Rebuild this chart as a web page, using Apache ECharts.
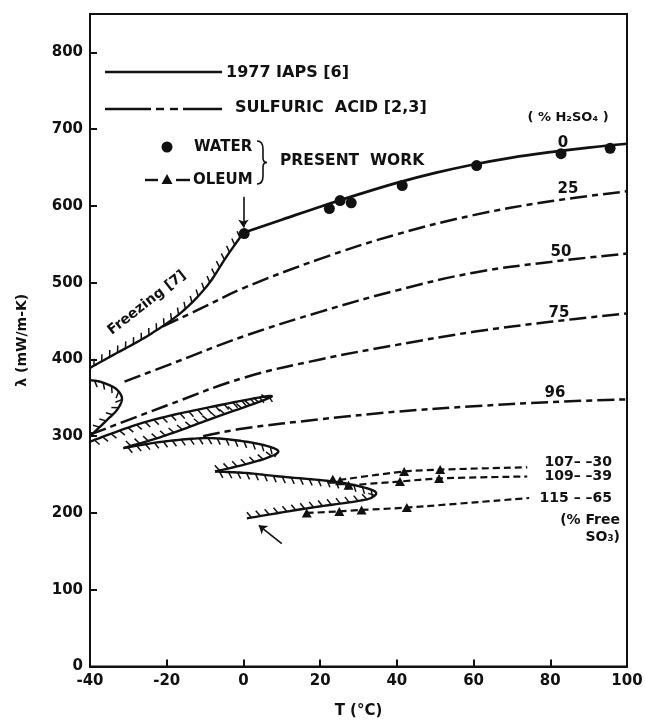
<!DOCTYPE html>
<html><head><meta charset="utf-8">
<script src="https://cdn.jsdelivr.net/npm/echarts@6/dist/echarts.min.js"></script>
<style>html,body{margin:0;padding:0;background:#fff}#c{width:646px;height:722px}</style>
</head><body><div id="c"></div>
<script>
// ---------- DATA ----------
const xTickValues = [-40, -20, 0, 20, 40, 60, 80, 100];
const yTickValues = [0, 100, 200, 300, 400, 500, 600, 700, 800];

// 1977 IAPS water curve
const iapsT = [0, 10, 20, 30, 40, 50, 60, 70, 80, 90, 100];
const iapsL = [565, 582, 599, 615, 630, 643, 654, 663, 670, 676, 681];

// present work: water points
const waterT = [0.2, 22.4, 25.2, 28.1, 41.4, 60.8, 82.8, 95.6];
const waterL = [564, 596.5, 607, 604, 626.5, 652.5, 668, 675];

// sulfuric acid curves [2,3]
const s25T = [-21, -10, 0, 20, 40, 60, 80, 100];
const s25L = [443, 469, 493, 531, 563, 588, 606, 619];
const s50T = [-31, -20, 0, 20, 40, 60, 80, 100];
const s50L = [371, 392, 430, 462, 490, 513, 527, 538];
const s75T = [-40, -20, 0, 20, 40, 60, 80, 100];
const s75L = [302, 340, 376, 400, 419, 436, 449, 460];
const s96T = [-10.5, 0, 20, 40, 60, 80, 100];
const s96L = [300, 310, 322, 332, 339, 344.5, 348];

// oleum: measured points and dashed curves
const o107T = [23.3, 41.9, 51.3];
const o107L = [244, 254, 256.5];
const o107CurveT = [25, 41.9, 51.3, 74];
const o107CurveL = [243, 254, 256.5, 259.5];
const o109T = [25.2, 27.4, 40.8, 51];
const o109L = [242, 236, 241, 245];
const o109CurveT = [27.4, 40.8, 51, 74];
const o109CurveL = [236, 241, 245, 247.5];
const o115T = [16.5, 25, 30.8, 42.6];
const o115L = [200, 202, 204, 207];
const o115CurveT = [16.5, 25, 30.8, 42.6, 74.5];
const o115CurveL = [200, 202, 204, 207, 219.5];

// freezing boundaries (hatched)
const frzAT = [-40, -33.9, -25.2, -16.5, -9.6, -4.4, 0];
const frzAL = [389, 406, 430, 460, 495, 534, 565];
const frzBT = [-40, -37.4, -33.9, -32.2, -31.7, -33.0, -35.6, -38.3, -40];
const frzBL = [373, 371, 364, 356, 347, 334, 321, 308, 300];
const frzCT = [-40, -25.2, -7.9, 7.4, -7.9, -20.9, -31.3];
const frzCL = [293, 319, 338.7, 352, 323.6, 300, 284.5];
const frzDT = [-31.3, -20.9, -9.6, -0.9, 6, 9.1, 6, 0, -7.4];
const frzDL = [284.5, 293, 297.5, 294, 287.5, 280, 271.5, 262.7, 254];
const frzET = [-7.4, 0.9, 9.5, 23.4, 30.4, 34.3, 33.9, 30.4, 16.5, 0.9];
const frzEL = [254, 252, 247.5, 241, 234.5, 228, 221.5, 216, 206, 193];

// arrows
const arrowWaterT = [0, 0];
const arrowWaterL = [612, 572];
const arrowOleumT = [10, 4];
const arrowOleumL = [160, 184];

// ---------- HELPERS ----------
const zip = (a, b) => a.map((v, i) => [v, b[i]]);
const BLACK = '#111';
const FONT = 'DejaVu Sans';

function catmull(p, n) {
  const out = [p[0]];
  for (let i = 0; i < p.length - 1; i++) {
    const p0 = p[i - 1] || p[i], p1 = p[i], p2 = p[i + 1], p3 = p[i + 2] || p[i + 1];
    for (let k = 1; k <= n; k++) {
      const t = k / n, t2 = t * t, t3 = t2 * t;
      const f = (a, b, c, d) => 0.5 * ((2 * b) + (-a + c) * t + (2 * a - 5 * b + 4 * c - d) * t2 + (-a + 3 * b - 3 * c + d) * t3);
      out.push([f(p0[0], p1[0], p2[0], p3[0]), f(p0[1], p1[1], p2[1], p3[1])]);
    }
  }
  return out;
}

function hatchSeries(name, Ts, Ls, side) {
  return {
    type: 'custom', name, clip: true, silent: true,
    data: [[Ts[0], Ls[0]]],
    renderItem: function (params, api) {
      const raw = Ts.map((t, i) => api.coord([t, Ls[i]]));
      const pts = catmull(raw, 14);
      const children = [{
        type: 'polyline', shape: { points: pts },
        style: { stroke: BLACK, lineWidth: 2.4, fill: null, lineJoin: 'round' }
      }];
      const spacing = 9, len = 7, tilt = 30 * Math.PI / 180;
      let acc = spacing / 2;
      for (let i = 0; i < pts.length - 1; i++) {
        const x1 = pts[i][0], y1 = pts[i][1], x2 = pts[i + 1][0], y2 = pts[i + 1][1];
        const dx = x2 - x1, dy = y2 - y1, L = Math.hypot(dx, dy);
        if (!L) continue;
        const ux = dx / L, uy = dy / L;
        const nx = side > 0 ? -uy : uy, ny = side > 0 ? ux : -ux;
        const tx = nx * Math.cos(tilt) + ux * Math.sin(tilt);
        const ty = ny * Math.cos(tilt) + uy * Math.sin(tilt);
        let s = acc;
        while (s <= L) {
          const px = x1 + ux * s, py = y1 + uy * s;
          children.push({ type: 'line', shape: { x1: px, y1: py, x2: px + tx * len, y2: py + ty * len },
            style: { stroke: BLACK, lineWidth: 1.5 } });
          s += spacing;
        }
        acc = s - L;
      }
      return { type: 'group', children };
    },
    z: 3
  };
}

const acidDash = [17, 5, 6, 5];
function acidLine(name, Ts, Ls) {
  return { type: 'line', name, data: zip(Ts, Ls), smooth: 0.4, symbol: 'none',
    lineStyle: { color: BLACK, width: 2.5, type: acidDash }, z: 2 };
}
function oleumCurve(name, Ts, Ls) {
  return { type: 'line', name, data: zip(Ts, Ls), smooth: 0.3, symbol: 'none',
    lineStyle: { color: BLACK, width: 2.2, type: [7, 4] }, z: 2 };
}
function oleumPts(name, Ts, Ls) {
  return { type: 'scatter', name, data: zip(Ts, Ls), symbol: 'triangle', symbolSize: [10, 9],
    itemStyle: { color: BLACK, opacity: 1 }, z: 5 };
}

const txt = (text, x, y, opts = {}) => ({
  type: 'text', x, y, rotation: opts.rotation || 0, z: 10,
  style: Object.assign({
    text, x: 0, y: 0, fill: BLACK,
    font: (opts.weight || 'bold') + ' ' + (opts.size || 15) + 'px "' + FONT + '"',
    textAlign: opts.align || 'left', align: opts.align || 'left',
    textVerticalAlign: 'middle', verticalAlign: 'middle'
  }, opts.style || {})
});
const seg = (x1, y1, x2, y2, w) => ({ type: 'line', z: 10, shape: { x1, y1, x2, y2 },
  style: { stroke: BLACK, lineWidth: w || 2.4 } });
const bez = (x1, y1, cpx1, cpy1, x2, y2) => ({ type: 'bezierCurve', z: 10,
  shape: { x1, y1, cpx1, cpy1, x2, y2 }, style: { stroke: BLACK, lineWidth: 1.6, fill: null } });

// ---------- CHART ----------
const chart = echarts.init(document.getElementById('c'), null, { renderer: 'canvas' });
const option = {
  animation: false,
  backgroundColor: '#fff',
  grid: { left: 90, right: 19, top: 14, bottom: 55.5, show: true, borderColor: BLACK, borderWidth: 2,
    containLabel: false, outerBoundsMode: 'none' },
  xAxis: {
    type: 'value', min: xTickValues[0], max: xTickValues[xTickValues.length - 1], interval: 20,
    name: 'T (°C)', nameLocation: 'middle', nameGap: 45, nameMoveOverlap: false,
    nameTextStyle: { color: BLACK, fontFamily: FONT, fontWeight: 'bold', fontSize: 15, verticalAlign: 'middle' },
    axisLine: { show: true, onZero: false, lineStyle: { color: BLACK, width: 2 } },
    axisTick: { show: true, inside: true, length: 7, lineStyle: { color: BLACK, width: 2 } },
    axisLabel: { color: BLACK, fontFamily: FONT, fontSize: 15, fontWeight: 'bold', margin: 7 },
    splitLine: { show: false }
  },
  yAxis: {
    type: 'value', min: yTickValues[0], max: 850, interval: 100,
    name: 'λ (mW/m-K)', nameLocation: 'middle', nameGap: 68, nameRotate: 90, nameMoveOverlap: false,
    nameTextStyle: { color: BLACK, fontFamily: FONT, fontWeight: 'bold', fontSize: 14, verticalAlign: 'middle' },
    axisLine: { show: true, onZero: false, lineStyle: { color: BLACK, width: 2 } },
    axisTick: { show: true, inside: true, length: 7, lineStyle: { color: BLACK, width: 2 } },
    axisLabel: { color: BLACK, fontFamily: FONT, fontSize: 15, fontWeight: 'bold', margin: 7, showMaxLabel: false },
    splitLine: { show: false }
  },
  series: [
    hatchSeries('Freezing [7]', frzAT, frzAL, -1),
    hatchSeries('freezing B', frzBT, frzBL, 1),
    hatchSeries('freezing C', frzCT, frzCL, 1),
    hatchSeries('freezing D', frzDT, frzDL, 1),
    hatchSeries('freezing E', frzET, frzEL, 1),
    acidLine('25%', s25T, s25L),
    acidLine('50%', s50T, s50L),
    acidLine('75%', s75T, s75L),
    acidLine('96%', s96T, s96L),
    { type: 'line', name: '1977 IAPS [6]', data: zip(iapsT, iapsL), smooth: 0.4, symbol: 'none',
      lineStyle: { color: BLACK, width: 2.7 }, z: 2 },
    { type: 'scatter', name: 'Water', data: zip(waterT, waterL), symbol: 'circle', symbolSize: 11,
      itemStyle: { color: BLACK, opacity: 1 }, z: 5 },
    oleumCurve('107-30', o107CurveT, o107CurveL),
    oleumCurve('109-39', o109CurveT, o109CurveL),
    oleumCurve('115-65', o115CurveT, o115CurveL),
    oleumPts('Oleum 107', o107T, o107L),
    oleumPts('Oleum 109', o109T, o109L),
    oleumPts('Oleum 115', o115T, o115L),
    { type: 'lines', coordinateSystem: 'cartesian2d', symbol: ['none', 'arrow'], symbolSize: 8,
      lineStyle: { color: BLACK, width: 1.6, opacity: 1 }, z: 4,
      data: [{ coords: zip(arrowWaterT, arrowWaterL) }, { coords: zip(arrowOleumT, arrowOleumL) }] }
  ],
  graphic: [
    // legend
    seg(105, 72, 222, 72, 2.6),
    txt('1977 IAPS [6]', 226, 73, { size: 16 }),
    seg(105, 109, 151, 109), seg(156, 109, 164, 109), seg(170, 109, 178, 109), seg(183, 109, 222, 109),
    txt('SULFURIC  ACID [2,3]', 235, 108, { size: 16 }),
    { type: 'circle', z: 10, shape: { cx: 167, cy: 147, r: 5.5 }, style: { fill: BLACK } },
    txt('WATER', 194, 147),
    seg(145, 180, 158, 180), seg(176, 180, 190, 180),
    { type: 'polygon', z: 10, shape: { points: [[167, 174], [172.5, 184], [161.5, 184]] }, style: { fill: BLACK } },
    txt('OLEUM', 193, 180),
    bez(257, 141, 263, 141, 263, 149), seg(263, 149, 263, 158, 1.6), bez(263, 158, 263, 162.5, 267, 162.5),
    bez(267, 162.5, 263, 162.5, 263, 167), seg(263, 167, 263, 176, 1.6), bez(263, 176, 263, 184, 257, 184),
    txt('PRESENT  WORK', 280, 161, { size: 15.5 }),
    // curve labels
    txt('( % H₂SO₄ )', 568, 118, { align: 'center', size: 13 }),
    txt('0', 563, 143, { align: 'center' }),
    txt('25', 568, 189, { align: 'center' }),
    txt('50', 561, 252, { align: 'center' }),
    txt('75', 559, 313, { align: 'center' }),
    txt('96', 555, 393, { align: 'center' }),
    txt('107– –30', 612, 462, { align: 'right', size: 14 }),
    txt('109– –39', 612, 476, { align: 'right', size: 14 }),
    txt('115 – –65', 612, 498, { align: 'right', size: 14 }),
    txt('(% Free', 620, 520, { align: 'right', size: 14 }),
    txt('SO₃)', 620, 537, { align: 'right', size: 14 }),
    txt('Freezing [7]', 147, 303, { align: 'center', size: 14, rotation: 38 * Math.PI / 180 })
  ]
};
chart.setOption(option);
</script>
</body></html>
